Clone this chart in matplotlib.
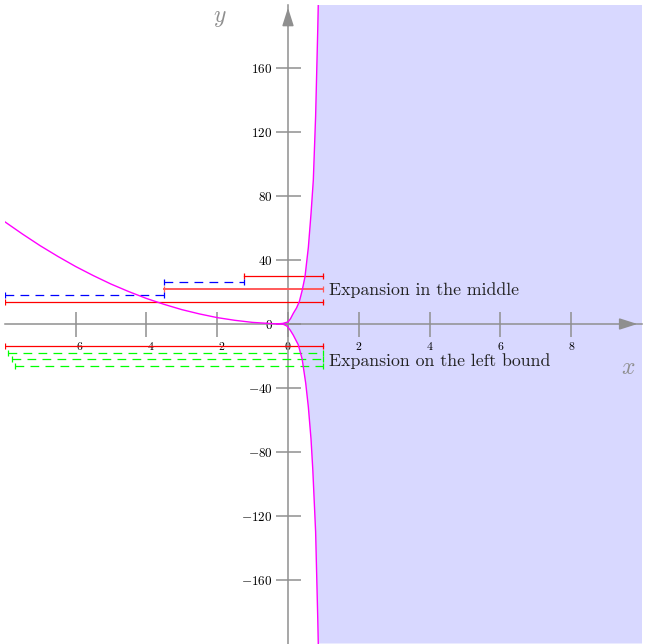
import matplotlib
matplotlib.use("Agg")
import matplotlib.pyplot as plt

plt.rcParams['mathtext.fontset'] = 'cm'
plt.rcParams['axes.unicode_minus'] = False

# curve, left part
left_x = [-8, -7.5, -7, -6.5, -6, -5.5, -5, -4.5, -4, -3.5, -3, -2.5, -2, -1.5, -1, -0.5, -0.3]
left_y = [64, 56.3, 49, 42.3, 36, 30.3, 25, 20.3, 16, 12.3, 9, 6.3, 4, 2.3, 1, 0.3, 0.09]

# curve, right part: upper and lower branches
up_x = [-0.3, -0.15, 0, 0.07, 0.15, 0.24, 0.32, 0.40, 0.48, 0.575, 0.65, 0.715, 0.78, 0.84, 0.855]
up_y = [0.09, 0.35, 1.3, 3.3, 6.7, 10, 14, 21, 29.6, 48, 69, 90, 130, 184, 200]
low_x = [-0.3, -0.15, -0.03, 0.06, 0.15, 0.29, 0.40, 0.50, 0.575, 0.65, 0.70, 0.78, 0.84, 0.855]
low_y = [0.09, 0.0, -1.3, -3.75, -7, -13, -22, -37, -52, -72, -91, -130, -184, -200]

# expansion in the middle
mid_red_start = [-1.25, -3.5, -8]
mid_red_end = [1, 1, 1]
mid_red_y = [30, 22, 14]
mid_blue_start = [-3.5, -8]
mid_blue_end = [-1.25, -3.5]
mid_blue_y = [26, 18]

# expansion on the left bound
left_red_start = [-8]
left_red_end = [1]
left_red_y = [-14]
left_green_start = [-7.9, -7.8, -7.7]
left_green_end = [1, 1, 1]
left_green_y = [-18, -22, -26]

xticks = [-6, -4, -2, 0, 2, 4, 6, 8]
yticks = [-160, -120, -80, -40, 0, 40, 80, 120, 160]

gray = '#8f8f8f'

fig = plt.figure(figsize=(6.45, 6.44), dpi=100)
ax = fig.add_axes([4.8 / 645, 0.5 / 644, 637.2 / 645, 639 / 644])
ax.set_xlim(-8, 10)
ax.set_ylim(-200, 200)

# shaded region right of the curve
fx = low_x[::-1] + up_x[1:] + [10, 10]
fy = low_y[::-1] + up_y[1:] + [200, -200]
ax.fill(fx, fy, color='#d8d8ff', lw=0, zorder=0)

ax.plot(left_x, left_y, color='#ff00ff', lw=1.0, zorder=4)
ax.plot(up_x, up_y, color='#ff00ff', lw=1.0, zorder=4)
ax.plot(low_x, low_y, color='#ff00ff', lw=1.0, zorder=4)


def bars(starts, ends, ys, color, ls='-', lw=0.9):
    for a, b, y in zip(starts, ends, ys):
        ax.plot([a, b], [y, y], color=color, lw=lw, ls=ls, zorder=3)
        ax.plot([a, b], [y, y], color=color, ls='none', marker='|',
                markersize=4, markeredgewidth=0.9, zorder=3)


dash = (0, (7, 5))
bars(mid_red_start[:1], mid_red_end[:1], mid_red_y[:1], '#ff0000')
bars(mid_red_start[1:2], mid_red_end[1:2], mid_red_y[1:2], '#ff5a5a', lw=1.4)
bars(mid_red_start[2:], mid_red_end[2:], mid_red_y[2:], '#ff0000')
bars(mid_blue_start, mid_blue_end, mid_blue_y, '#0000ff', ls=dash)
bars(left_red_start, left_red_end, left_red_y, '#ff0000')
bars(left_green_start, left_green_end, left_green_y, '#00ff00', ls=dash)

ax.text(1.16, 21, 'Expansion in the middle', family='cmr10', fontsize=12.8,
        va='center', ha='left', color='#222222', zorder=5)
ax.text(1.16, -23.5, 'Expansion on the left bound', family='cmr10', fontsize=12.8,
        va='center', ha='left', color='#222222', zorder=5)

# axes through the origin
for s in ['top', 'right']:
    ax.spines[s].set_visible(False)
for s in ['left', 'bottom']:
    ax.spines[s].set_position(('data', 0))
    ax.spines[s].set_color(gray)
    ax.spines[s].set_linewidth(1.1)

ax.set_xticks(xticks)
ax.set_xticklabels(['$%d$' % t for t in xticks])
ax.set_yticks(yticks)
ax.set_yticklabels(['$%d$' % t for t in yticks])
ax.tick_params(direction='inout', length=18, width=1.1, color=gray)
ax.tick_params(axis='x', pad=2.5, labelsize=8.5)
ax.tick_params(axis='y', pad=2, labelsize=9.5)

ax.annotate('', xy=(9.95, 0), xytext=(9.3, 0),
            arrowprops=dict(arrowstyle='-|>,head_length=1.1,head_width=0.35',
                            color=gray, lw=1.1, mutation_scale=10))
ax.annotate('', xy=(0, 199.7), xytext=(0, 185),
            arrowprops=dict(arrowstyle='-|>,head_length=1.1,head_width=0.35',
                            color=gray, lw=1.1, mutation_scale=10))

ax.text(9.6, -27, '$x$', fontsize=17, color=gray, ha='center', va='center')
ax.text(-1.92, 192, '$y$', fontsize=17, color=gray, ha='center', va='center')

fig.savefig('out.png', dpi=100)
